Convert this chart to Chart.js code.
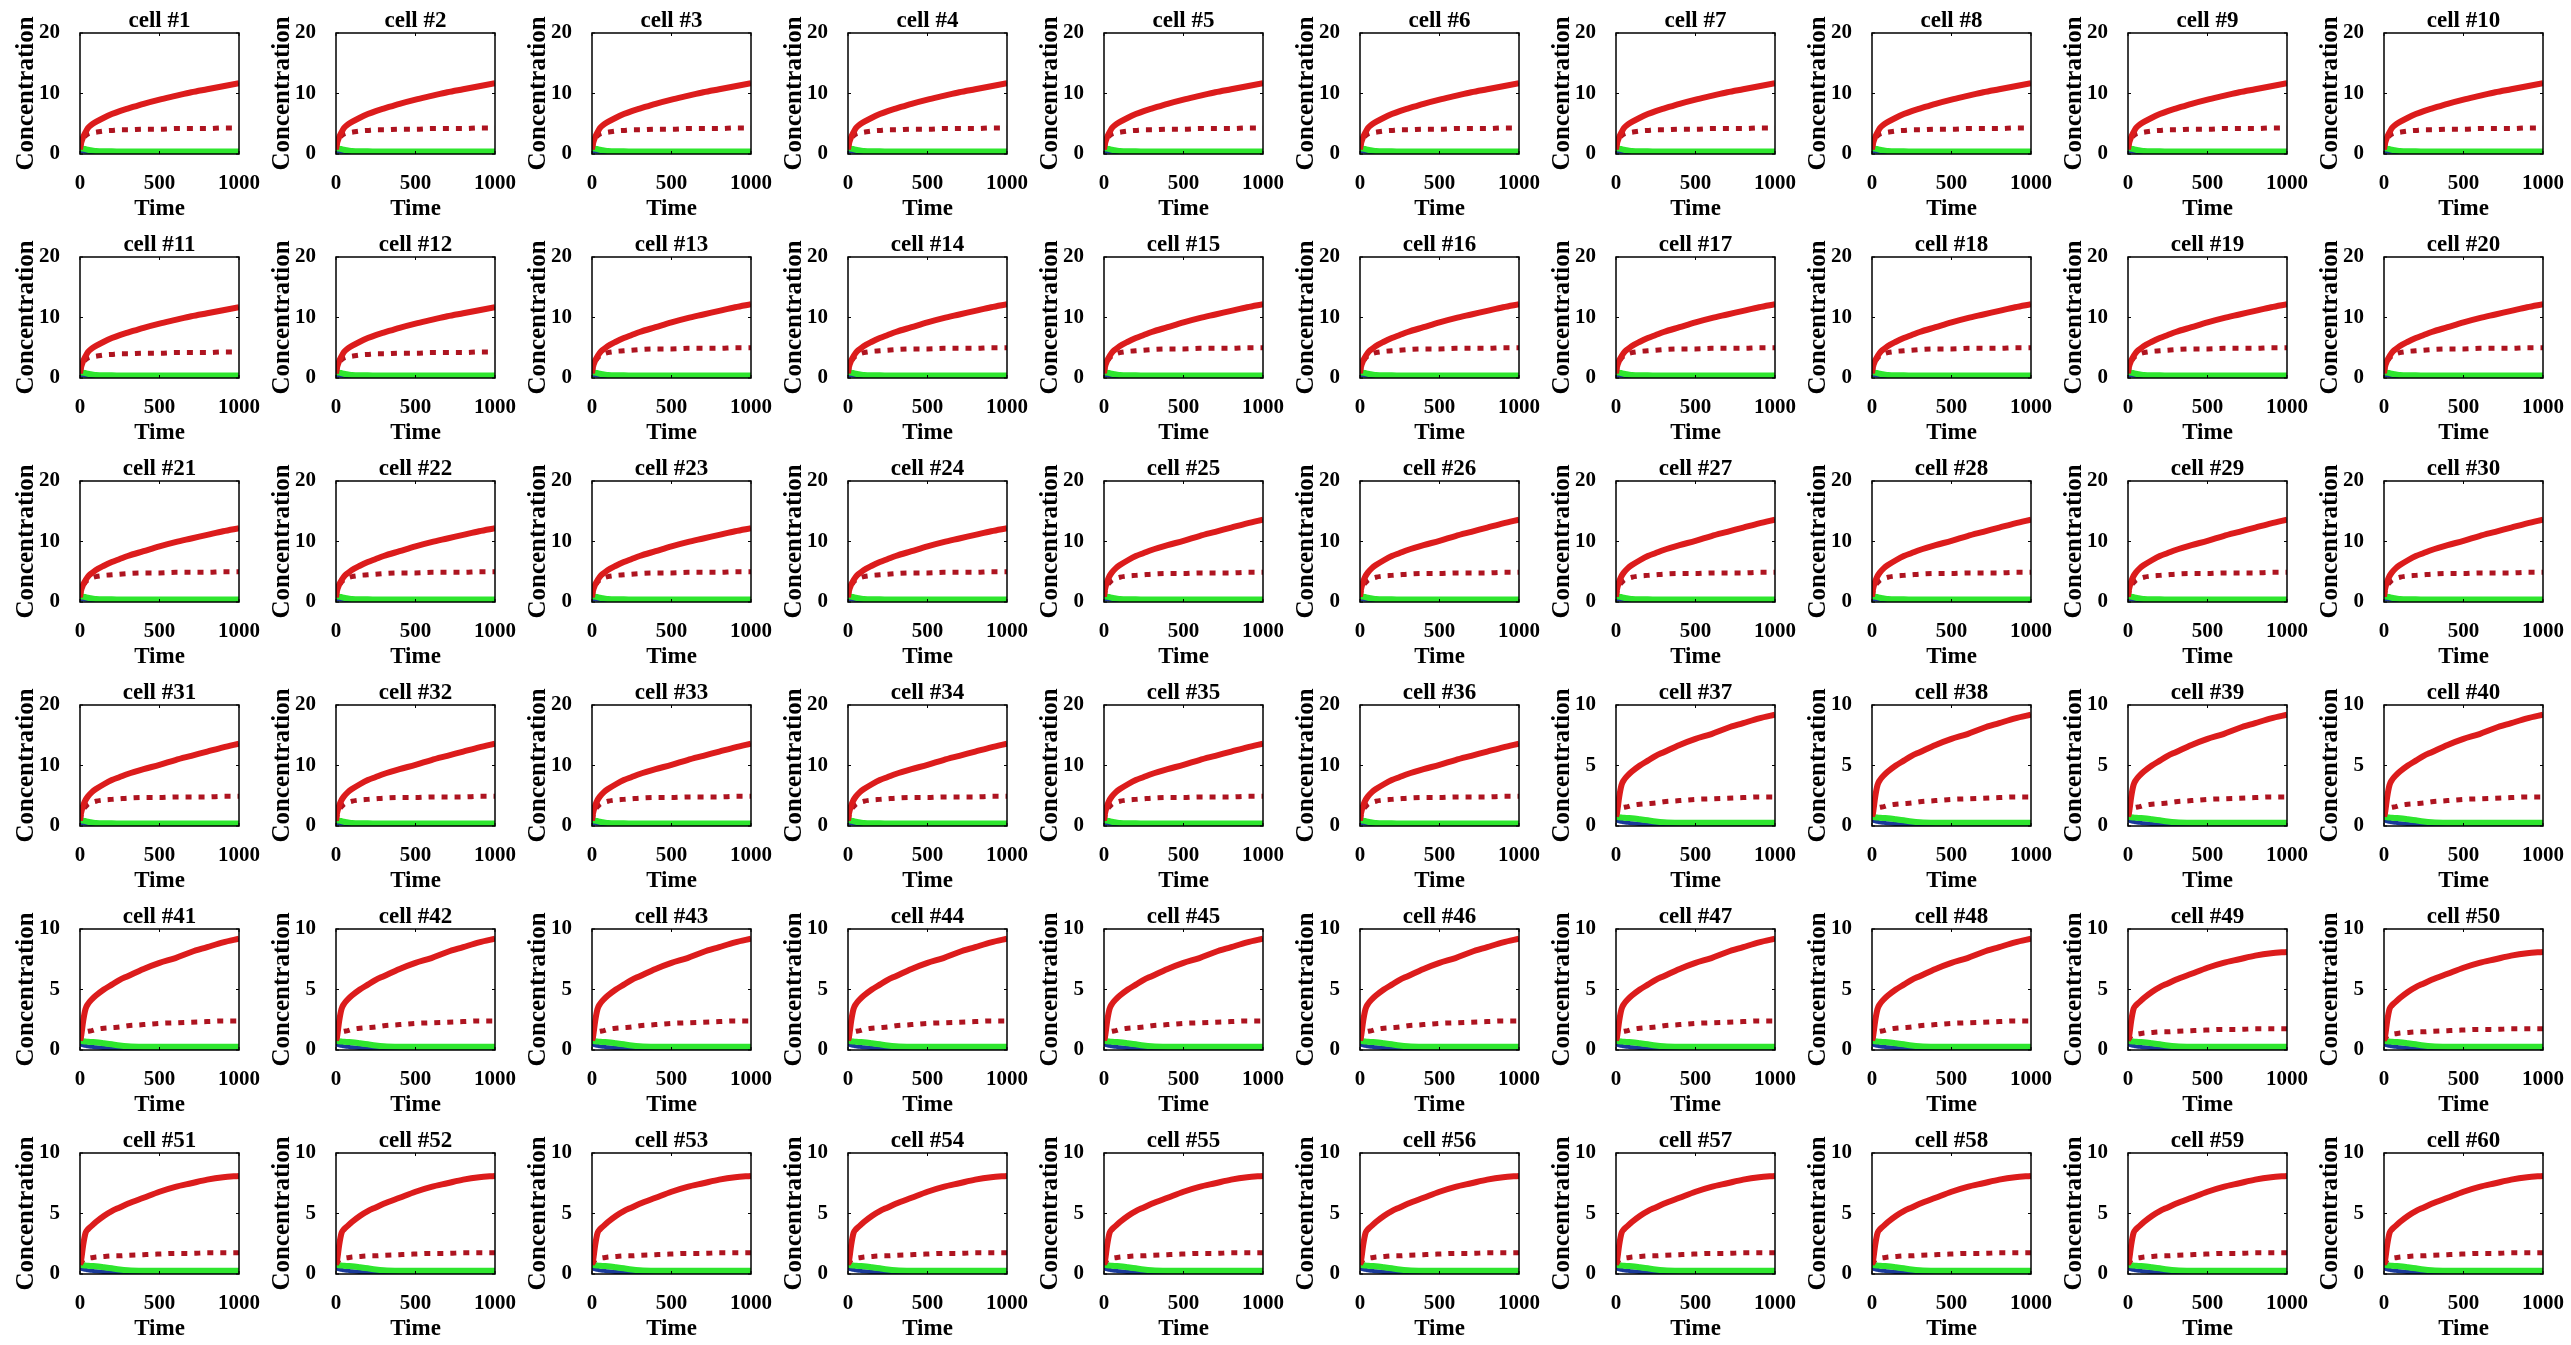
<!DOCTYPE html>
<html>
<head>
<meta charset="utf-8">
<title>Concentration vs Time, cells 1-60</title>
<script src="https://cdn.jsdelivr.net/npm/chart.js@4.4.1/dist/chart.umd.min.js"></script>
<style>
  html, body { margin: 0; padding: 0; background: #fff; }
  #grid { position: relative; width: 2571px; height: 1345px; overflow: hidden; }
  #grid canvas { position: absolute; }
</style>
</head>
<body>
<div id="grid"></div>
<script>
'use strict';

// ─────────────────────────────────────────────
// DATA
// ─────────────────────────────────────────────
const TIME = [0, 5, 10, 20, 35, 50, 75, 100, 150, 200, 250, 300, 400, 500, 600, 700, 800, 900, 1000];

// red solid curves, one per group of 12 cells
const RED_A = [0.8, 1.6, 2.1, 2.8, 3.6, 4.3, 4.9, 5.3, 6.0, 6.6, 7.1, 7.5, 8.3, 9.0, 9.6, 10.2, 10.7, 11.2, 11.7];
const RED_B = [0.8, 1.7, 2.2, 2.9, 3.6, 4.2, 4.8, 5.3, 6.0, 6.6, 7.1, 7.6, 8.4, 9.2, 9.9, 10.5, 11.1, 11.7, 12.2];
const RED_C = [0.9, 1.9, 2.5, 3.4, 4.3, 4.9, 5.6, 6.1, 6.9, 7.6, 8.1, 8.6, 9.4, 10.1, 10.9, 11.6, 12.3, 13.0, 13.6];
const RED_D = [0.8, 1.0, 1.4, 2.4, 3.4, 3.8, 4.2, 4.5, 5.0, 5.4, 5.8, 6.1, 6.7, 7.2, 7.6, 8.1, 8.5, 8.9, 9.2];
const RED_E = [0.8, 1.0, 1.4, 2.4, 3.4, 3.7, 4.0, 4.3, 4.8, 5.2, 5.5, 5.8, 6.3, 6.8, 7.2, 7.5, 7.8, 8.0, 8.1];

// red dotted curves
const DOT_A = [0.8, 1.4, 1.9, 2.5, 3.0, 3.3, 3.5, 3.6, 3.8, 3.9, 4.0, 4.0, 4.1, 4.1, 4.2, 4.2, 4.2, 4.3, 4.3];
const DOT_B = [0.8, 1.5, 2.0, 2.7, 3.3, 3.7, 4.0, 4.2, 4.4, 4.5, 4.6, 4.7, 4.8, 4.8, 4.9, 4.9, 4.9, 5.0, 5.0];
const DOT_C = [0.9, 1.5, 2.0, 2.7, 3.2, 3.6, 3.9, 4.1, 4.3, 4.4, 4.5, 4.6, 4.7, 4.7, 4.8, 4.8, 4.8, 4.9, 4.9];
const DOT_D = [0.8, 1.0, 1.2, 1.4, 1.5, 1.55, 1.6, 1.7, 1.8, 1.85, 1.9, 2.0, 2.1, 2.2, 2.25, 2.3, 2.35, 2.4, 2.4];
const DOT_E = [0.8, 0.9, 1.0, 1.15, 1.25, 1.3, 1.35, 1.4, 1.45, 1.5, 1.5, 1.55, 1.6, 1.65, 1.7, 1.7, 1.75, 1.75, 1.75];

// green and blue curves (near zero)
const GREEN_HI = [1.0, 1.0, 0.95, 0.9, 0.8, 0.7, 0.6, 0.5, 0.45, 0.45, 0.42, 0.4, 0.4, 0.4, 0.4, 0.4, 0.4, 0.4, 0.4];
const GREEN_LO = [0.75, 0.75, 0.75, 0.72, 0.7, 0.68, 0.66, 0.64, 0.56, 0.47, 0.38, 0.32, 0.27, 0.26, 0.26, 0.26, 0.26, 0.26, 0.26];
const BLUE_HI = [0.6, 0.55, 0.5, 0.45, 0.4, 0.35, 0.3, 0.25, 0.18, 0.12, 0.08, 0.05, 0.02, 0, 0, 0, 0, 0, 0];
const BLUE_LO = [0.5, 0.45, 0.42, 0.38, 0.34, 0.3, 0.26, 0.22, 0.16, 0.11, 0.07, 0.04, 0.02, 0, 0, 0, 0, 0, 0];

// groups: first cell of each group and its curves
const GROUP_FIRST_CELL = [1, 13, 25, 37, 49];
const GROUP_RED   = [RED_A, RED_B, RED_C, RED_D, RED_E];
const GROUP_DOT   = [DOT_A, DOT_B, DOT_C, DOT_D, DOT_E];
const GROUP_GREEN = [GREEN_HI, GREEN_HI, GREEN_HI, GREEN_LO, GREEN_LO];
const GROUP_BLUE  = [BLUE_HI, BLUE_HI, BLUE_HI, BLUE_LO, BLUE_LO];

// tick labels
const X_TICKS = [0, 500, 1000];
const Y_TICKS_HI = [0, 10, 20];
const Y_TICKS_LO = [0, 5, 10];
const GROUP_Y_TICKS = [Y_TICKS_HI, Y_TICKS_HI, Y_TICKS_HI, Y_TICKS_LO, Y_TICKS_LO];

const CELL_COUNT = 60;
const COLS = 10;

// ─────────────────────────────────────────────
// LAYOUT / STYLE
// ─────────────────────────────────────────────
const FONT = "'Liberation Serif', 'Times New Roman', serif";
const COL_W = 256;
const ROW_H = 224;
const CANVAS_W = 280;
const PLOT_RIGHT = 239;   // right edge of plot area inside a canvas

const C_RED = '#dc1c1c';
const C_DOT = '#ae1420';
const C_GREEN = '#2ee62e';
const C_BLUE = '#1a3a9a';

// box round the plot area + small inward ticks, like the original
const boxPlugin = {
  id: 'box',
  afterDatasetsDraw(chart) {
    const { ctx, chartArea: a, scales } = chart;
    ctx.save();
    ctx.strokeStyle = '#000';
    ctx.lineWidth = 1.5;
    ctx.strokeRect(a.left, a.top, a.right - a.left, a.bottom - a.top);
    ctx.lineWidth = 1;
    ctx.beginPath();
    scales.x.ticks.forEach((t) => {
      const px = scales.x.getPixelForValue(t.value);
      ctx.moveTo(px, a.bottom); ctx.lineTo(px, a.bottom - 3);
      ctx.moveTo(px, a.top); ctx.lineTo(px, a.top + 3);
    });
    scales.y.ticks.forEach((t) => {
      const py = scales.y.getPixelForValue(t.value);
      ctx.moveTo(a.left, py); ctx.lineTo(a.left + 3, py);
      ctx.moveTo(a.right, py); ctx.lineTo(a.right - 3, py);
    });
    ctx.stroke();
    ctx.restore();
  },
};

const pts = (vals) => TIME.map((t, i) => ({ x: t, y: vals[i] }));

function groupOf(cell) {
  let g = 0;
  GROUP_FIRST_CELL.forEach((first, i) => { if (cell >= first) g = i; });
  return g;
}

const line = (data, color, width, extra) => Object.assign({
  data,
  borderColor: color,
  borderWidth: width,
  pointRadius: 0,
  fill: false,
  cubicInterpolationMode: 'monotone',
}, extra || {});

function makeCell(cell) {
  const idx = cell - 1;
  const col = idx % COLS;
  const row = Math.floor(idx / COLS);
  const g = groupOf(cell);
  const yTicks = GROUP_Y_TICKS[g];

  const canvas = document.createElement('canvas');
  canvas.width = CANVAS_W;
  canvas.height = ROW_H;
  canvas.style.left = (col * COL_W) + 'px';
  canvas.style.top = (row * ROW_H) + 'px';
  document.getElementById('grid').appendChild(canvas);

  new Chart(canvas, {
    type: 'line',
    data: {
      datasets: [
        line(pts(GROUP_RED[g]), C_RED, 6),
        line(pts(GROUP_DOT[g]), C_DOT, 5, { borderDash: [6, 7] }),
        line(pts(GROUP_GREEN[g]), C_GREEN, 6),
        line(pts(GROUP_BLUE[g]), C_BLUE, 4),
      ],
    },
    options: {
      responsive: false,
      animation: false,
      events: [],
      layout: { padding: { left: 0, top: 0, right: CANVAS_W - PLOT_RIGHT, bottom: 0 } },
      plugins: {
        legend: { display: false },
        tooltip: { enabled: false },
        title: {
          display: true,
          fullSize: false,
          align: 'center',
          text: 'cell #' + cell,
          color: '#000',
          font: { family: FONT, size: 23, weight: 'bold', lineHeight: 1 },
          padding: { top: 10, bottom: 0 },
        },
      },
      scales: {
        x: {
          type: 'linear',
          min: 0,
          max: 1000,
          grid: { display: false },
          border: { display: false },
          afterBuildTicks: (s) => { s.ticks = X_TICKS.map((v) => ({ value: v })); },
          afterFit: (s) => { s.height = 70; },
          ticks: {
            color: '#000',
            font: { family: FONT, size: 21, weight: 'bold' },
            padding: 9,
            maxRotation: 0,
            callback: (v) => String(v),
          },
          title: {
            display: true,
            text: 'Time',
            color: '#000',
            font: { family: FONT, size: 23, weight: 'bold' },
            padding: { top: 0, bottom: 1 },
          },
        },
        y: {
          type: 'linear',
          min: yTicks[0],
          max: yTicks[yTicks.length - 1],
          grid: { display: false },
          border: { display: false },
          afterBuildTicks: (s) => { s.ticks = yTicks.map((v) => ({ value: v })); },
          afterFit: (s) => { s.width = 80; },
          ticks: {
            color: '#000',
            font: { family: FONT, size: 21, weight: 'bold' },
            padding: 12,
            callback: (v) => String(v),
          },
          title: {
            display: true,
            text: 'Concentration',
            color: '#000',
            font: { family: FONT, size: 25, weight: 'bold' },
            padding: { top: 12, bottom: 0 },
          },
        },
      },
    },
    plugins: [boxPlugin],
  });
}

for (let c = 1; c <= CELL_COUNT; c++) makeCell(c);
</script>
</body>
</html>
